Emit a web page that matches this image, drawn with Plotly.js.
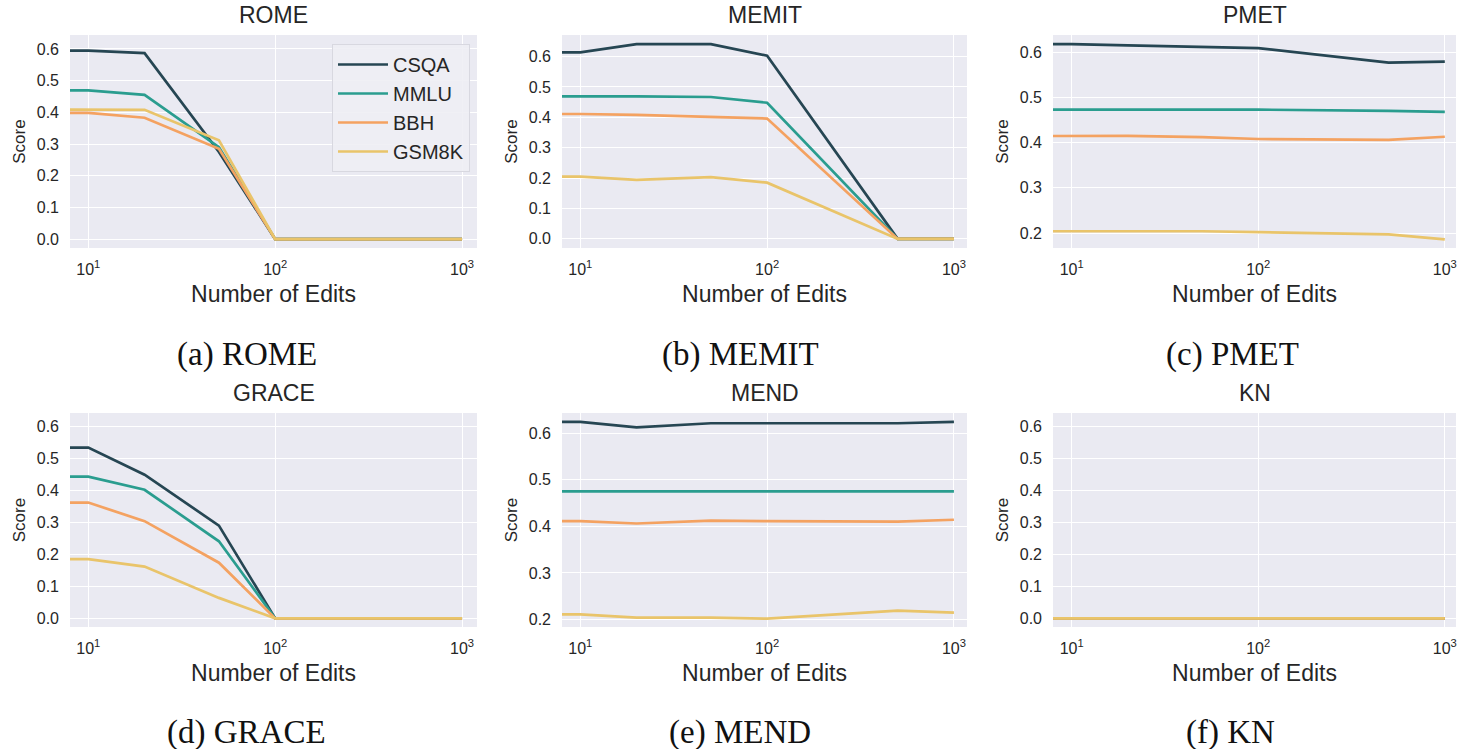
<!DOCTYPE html>
<html>
<head>
<meta charset="utf-8">
<script src="https://cdn.plot.ly/plotly-3.0.1.min.js"></script>
<style>
  html, body { margin: 0; padding: 0; background: #ffffff; }
  #chart { width: 1458px; height: 749px; }
</style>
</head>
<body>
<div id="chart"></div>
<script>
// ---------------- DATA ----------------
const edits = [1, 10, 20, 50, 100, 500, 1000];
const seriesNames = ['CSQA', 'MMLU', 'BBH', 'GSM8K'];
const methods = ['ROME', 'MEMIT', 'PMET', 'GRACE', 'MEND', 'KN'];
const captions = ['(a) ROME', '(b) MEMIT', '(c) PMET', '(d) GRACE', '(e) MEND', '(f) KN'];
const xTickVals = [10, 100, 1000];
const xTickText = ['10<sup>1</sup>', '10<sup>2</sup>', '10<sup>3</sup>'];

const rome_CSQA  = [0.595, 0.595, 0.587, 0.275, 0, 0, 0];
const rome_MMLU  = [0.469, 0.469, 0.455, 0.290, 0, 0, 0];
const rome_BBH   = [0.398, 0.398, 0.383, 0.285, 0, 0, 0];
const rome_GSM8K = [0.409, 0.409, 0.408, 0.312, 0, 0, 0];

const memit_CSQA  = [0.614, 0.614, 0.641, 0.641, 0.603, 0, 0];
const memit_MMLU  = [0.470, 0.470, 0.469, 0.467, 0.448, 0, 0];
const memit_BBH   = [0.411, 0.411, 0.408, 0.401, 0.396, 0, 0];
const memit_GSM8K = [0.205, 0.205, 0.194, 0.203, 0.185, 0, 0];

const pmet_CSQA  = [0.618, 0.618, 0.615, 0.612, 0.609, 0.577, 0.579];
const pmet_MMLU  = [0.473, 0.473, 0.472, 0.473, 0.473, 0.470, 0.468];
const pmet_BBH   = [0.414, 0.414, 0.415, 0.412, 0.408, 0.406, 0.413];
const pmet_GSM8K = [0.204, 0.204, 0.203, 0.204, 0.202, 0.197, 0.186];

const grace_CSQA  = [0.534, 0.534, 0.449, 0.290, 0, 0, 0];
const grace_MMLU  = [0.443, 0.443, 0.402, 0.241, 0, 0, 0];
const grace_BBH   = [0.362, 0.362, 0.304, 0.174, 0, 0, 0];
const grace_GSM8K = [0.185, 0.185, 0.162, 0.064, 0, 0, 0];

const mend_CSQA  = [0.624, 0.624, 0.612, 0.621, 0.621, 0.621, 0.624];
const mend_MMLU  = [0.475, 0.475, 0.475, 0.475, 0.475, 0.475, 0.475];
const mend_BBH   = [0.411, 0.411, 0.406, 0.412, 0.411, 0.410, 0.414];
const mend_GSM8K = [0.211, 0.211, 0.204, 0.204, 0.202, 0.219, 0.215];

const kn_CSQA  = [0, 0, 0, 0, 0, 0, 0];
const kn_MMLU  = [0, 0, 0, 0, 0, 0, 0];
const kn_BBH   = [0, 0, 0, 0, 0, 0, 0];
const kn_GSM8K = [0, 0, 0, 0, 0, 0, 0];

const panelData = [
  [rome_CSQA, rome_MMLU, rome_BBH, rome_GSM8K],
  [memit_CSQA, memit_MMLU, memit_BBH, memit_GSM8K],
  [pmet_CSQA, pmet_MMLU, pmet_BBH, pmet_GSM8K],
  [grace_CSQA, grace_MMLU, grace_BBH, grace_GSM8K],
  [mend_CSQA, mend_MMLU, mend_BBH, mend_GSM8K],
  [kn_CSQA, kn_MMLU, kn_BBH, kn_GSM8K]
];

// ---------------- STYLE ----------------
const colors = ['#264653', '#2a9d8f', '#f4a261', '#e9c46a'];
const W = 1458, H = 749;
const colDom = [[70 / W, 477 / W], [562 / W, 967 / W], [1053 / W, 1456 / W]];
const rowDom = [[1 - 248 / H, 1 - 35 / H], [1 - 627 / H, 1 - 413 / H]];
const xRanges = [[0.902, 3.08], [0.902, 3.07], [0.90, 3.06]];
const yRanges = [[-0.028, 0.644], [-0.030, 0.671], [0.167, 0.638],
                 [-0.027, 0.642], [0.184, 0.643], [-0.027, 0.642]];
const captionX = [247, 740, 1232, 247, 740, 1230];
const captionY = [354, 354, 354, 732, 732, 732];
const txt = '#262626';
const sans = 'Liberation Sans, Arial, sans-serif';

const traces = [];
panelData.forEach((panel, p) => {
  panel.forEach((ys, s) => {
    traces.push({
      type: 'scatter', mode: 'lines',
      x: edits, y: ys,
      xaxis: 'x' + (p + 1), yaxis: 'y' + (p + 1),
      name: seriesNames[s],
      legendgroup: seriesNames[s],
      showlegend: p === 0,
      line: { color: colors[s], width: 2.7 },
      hoverinfo: 'skip'
    });
  });
});

const layout = {
  width: W, height: H,
  margin: { l: 0, r: 0, t: 0, b: 0 },
  paper_bgcolor: '#ffffff',
  plot_bgcolor: '#eaeaf2',
  font: { family: sans, color: txt },
  showlegend: true,
  legend: {
    x: 470 / W, xanchor: 'right', y: 1 - 44 / H, yanchor: 'top',
    bgcolor: 'rgba(238,238,244,0.9)', bordercolor: '#d8d8e0', borderwidth: 1,
    font: { family: sans, size: 20, color: txt },
    itemwidth: 50,
    tracegroupgap: 0, traceorder: 'grouped'
  },
  annotations: [],
  shapes: []
};

methods.forEach((m, p) => {
  const r = Math.floor(p / 3), c = p % 3;
  const xk = 'xaxis' + (p === 0 ? '' : p + 1);
  const yk = 'yaxis' + (p === 0 ? '' : p + 1);
  layout[xk] = {
    domain: colDom[c], anchor: 'y' + (p + 1), type: 'log',
    range: xRanges[c],
    tickvals: xTickVals, ticktext: xTickText,
    showgrid: true, gridcolor: '#ffffff', gridwidth: 1,
    zeroline: false, showline: false, ticks: '',
    ticklabelstandoff: 10,
    tickfont: { family: sans, size: 16, color: txt },
    title: { text: 'Number of Edits', font: { family: sans, size: 23, color: txt }, standoff: 8 }
  };
  layout[yk] = {
    domain: rowDom[r], anchor: 'x' + (p + 1),
    range: yRanges[p], dtick: 0.1, tick0: 0, tickformat: '.1f',
    showgrid: true, gridcolor: '#ffffff', gridwidth: 1,
    zeroline: false, showline: false, ticks: '',
    ticklabelstandoff: 10,
    tickfont: { family: sans, size: 16, color: txt },
    title: { text: 'Score', font: { family: sans, size: 17, color: txt }, standoff: 6 }
  };
  // subplot title
  layout.annotations.push({
    text: m, xref: 'paper', yref: 'paper',
    x: (colDom[c][0] + colDom[c][1]) / 2, y: rowDom[r][1] + 5 / H,
    xanchor: 'center', yanchor: 'bottom', showarrow: false,
    font: { family: sans, size: 23, color: txt }
  });
  // caption
  layout.annotations.push({
    text: captions[p], xref: 'paper', yref: 'paper',
    x: captionX[p] / W, y: 1 - captionY[p] / H,
    xanchor: 'center', yanchor: 'middle', showarrow: false,
    font: { family: 'Liberation Serif, Times New Roman, serif', size: 33, color: '#111111' }
  });
});

Plotly.newPlot('chart', traces, layout, { staticPlot: true, displayModeBar: false });
</script>
</body>
</html>
